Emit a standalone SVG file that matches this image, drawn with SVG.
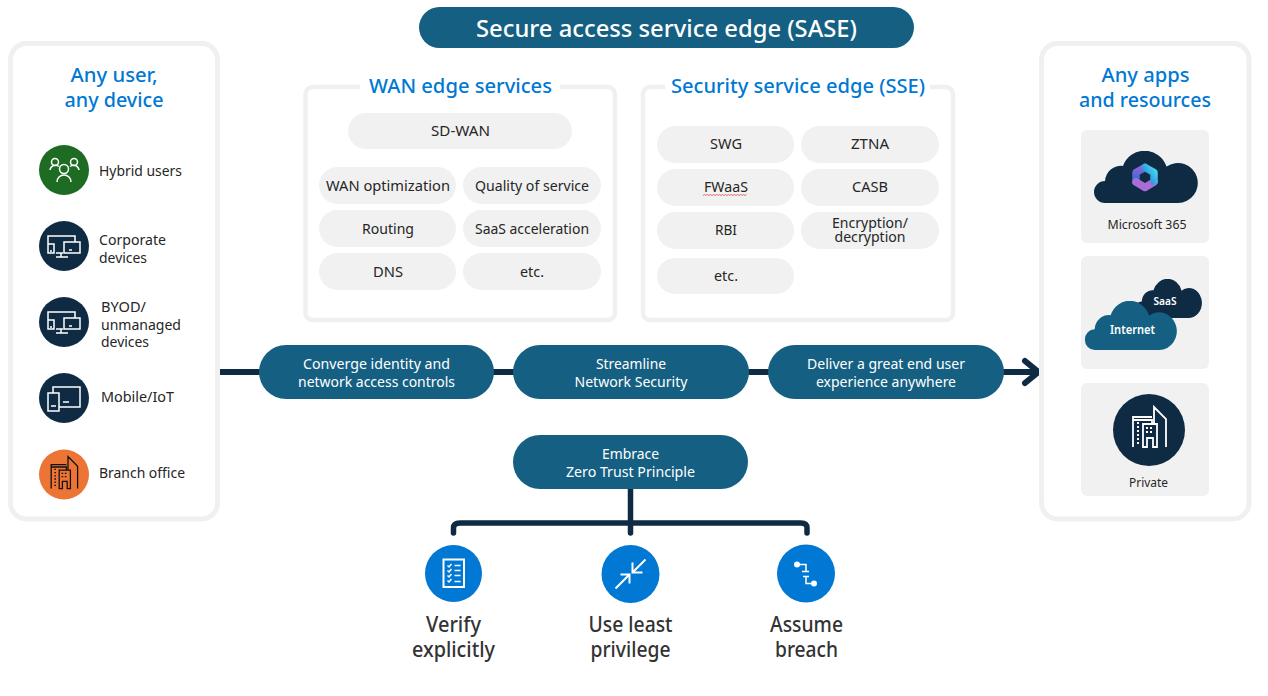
<svg xmlns="http://www.w3.org/2000/svg" width="1268" height="696" viewBox="0 0 1268 696">
<style>
text{font-family:"Noto Sans","Open Sans","Liberation Sans",sans-serif;text-anchor:middle;fill:#262626;font-size:14px}
.l{text-anchor:start}
.w{fill:#fff}
.h{fill:#0078d4;font-size:20px;font-weight:500}
.b{font-size:21px;fill:#333;font-weight:500}
.s{font-size:12.5px}
.panel{fill:#fff;stroke:#f0f0f0;stroke-width:5}
.box{fill:#fff;stroke:#f0f0f0;stroke-width:4.5}
.pill{fill:#f1f1f1}
.main{fill:#156082}
.card{fill:#f1f1f1}
.conn{fill:none;stroke:#0f2a43;stroke-width:5.5;stroke-linecap:round;stroke-linejoin:round}
.ic{fill:none;stroke:#fff;stroke-width:1.5}
.ic2{fill:none;stroke:#fff;stroke-width:2}
.navy{fill:#0f2a43}
.blue{fill:#0078d4}
</style>
<defs>
<symbol id="cloud" viewBox="0 0 105 52" preserveAspectRatio="none">
<path d="M12 52A11 11 0 0 1 12 30A16 16 0 0 1 30 15A23 23 0 0 1 73.500 15.500A20 20 0 1 1 85 52Z"/>
</symbol>
<g id="devices">
<path d="M-16 -1V-10H11V-4M0 -4H16V7H0ZM-16 -2H-10V7H-16ZM-8 7H-1M-3 7V11M-8 11H4M5 4H8M-14 5H-12"/>
</g>
<g id="building">
<path d="M-16 17V-13H3M-16 -10H3V-6M-6 17V-6H8V17H4V8H-2V17ZM5 -6V-23L17 -11V17M-12 -7H-10M-12 -3H-10M-12 1H-10M-12 5H-10M-12 9H-10M-12 13H-10M-3 -2H-1M1 -2H3M-3 2H-1M1 2H3"/>
</g>
<linearGradient id="m365a" x1="0" y1="0" x2="0" y2="1">
<stop offset="0" stop-color="#8f62d8"/>
<stop offset="1" stop-color="#2470d0"/>
</linearGradient>
<linearGradient id="m365b" x1="0" y1="1" x2="1" y2="0">
<stop offset="0" stop-color="#2a78d8"/>
<stop offset="1" stop-color="#45d8f0"/>
</linearGradient>
</defs>

<g id="connectors">
<path class="conn" style="stroke-width:6" d="M220 372H1038M1025 361L1038.500 372L1025 383"/>
<path class="conn" d="M630.500 489V533M453.500 533V528Q453.500 523 460 523H801Q807 523 807 528V533"/>
</g>

<g id="title"><rect class="main" x="419" y="7" width="495" height="41" rx="20.500"/><text class="w" x="666.500" y="37" style="font-size:24px;font-weight:500" textLength="381" lengthAdjust="spacingAndGlyphs">Secure access service edge (SASE)</text></g>

<g id="users-panel">
<rect class="panel" x="10.500" y="43.500" width="207" height="475.500" rx="16"/>
<text class="h" x="114" y="82" textLength="87" lengthAdjust="spacingAndGlyphs">Any user,</text>
<text class="h" x="114" y="107" textLength="99" lengthAdjust="spacingAndGlyphs">any device</text>
</g>
<g id="hybrid-users">
<circle cx="64" cy="170" r="25" fill="#1e6b24"/>
<g class="ic" transform="translate(64 170)"><circle cx="0" cy="-1" r="4.500"/><path d="M-7 12A7 7 0 0 1 7 12"/><circle cx="-9" cy="-8" r="3.500"/><path d="M-14 0A5.500 5.500 0 0 1 -5 -3.500"/><circle cx="10" cy="-8" r="3.500"/><path d="M15 0A5.500 5.500 0 0 0 6 -3.500"/></g>
<text class="l" x="99" y="176" textLength="83" lengthAdjust="spacingAndGlyphs">Hybrid users</text>
</g>
<g id="corporate-devices">
<circle class="navy" cx="64" cy="246" r="25"/>
<use href="#devices" class="ic" x="64" y="246"/>
<text class="l" x="99" y="245" textLength="67" lengthAdjust="spacingAndGlyphs">Corporate</text>
<text class="l" x="99" y="263" textLength="48" lengthAdjust="spacingAndGlyphs">devices</text>
</g>
<g id="byod-devices">
<circle class="navy" cx="64" cy="322" r="25"/>
<use href="#devices" class="ic" x="64" y="322"/>
<text class="l" x="101" y="312" textLength="45" lengthAdjust="spacingAndGlyphs">BYOD/</text>
<text class="l" x="101" y="330" textLength="80" lengthAdjust="spacingAndGlyphs">unmanaged</text>
<text class="l" x="101" y="347" textLength="48" lengthAdjust="spacingAndGlyphs">devices</text>
</g>
<g id="mobile-iot">
<circle class="navy" cx="64" cy="398" r="25"/>
<path class="ic" transform="translate(64 398)" d="M-11 -5V-11H16V9H-5M-16 -5H-5V13H-16ZM-1 4H5M-13 8H-8"/>
<text class="l" x="101" y="402" textLength="73" lengthAdjust="spacingAndGlyphs">Mobile/IoT</text>
</g>
<g id="branch-office">
<circle cx="64" cy="474.500" r="25" fill="#ec7434"/>
<use href="#building" transform="translate(64 475) scale(.8)" fill="none" stroke="#111" stroke-width="1.600"/>
<text class="l" x="99" y="478" textLength="86" lengthAdjust="spacingAndGlyphs">Branch office</text>
</g>

<g id="wan-edge">
<rect class="box" x="305.500" y="87" width="309.500" height="233" rx="7"/>
<rect x="360" y="78" width="200" height="14" fill="#fff"/>
<text class="h" x="460.500" y="93" textLength="183" lengthAdjust="spacingAndGlyphs">WAN edge services</text>
</g>
<g id="sd-wan"><rect class="pill" x="348" y="113" width="224" height="36" rx="18"/><text x="460.500" y="136" textLength="59" lengthAdjust="spacingAndGlyphs">SD-WAN</text></g>
<g id="wan-optimization"><rect class="pill" x="319" y="167" width="137" height="37" rx="18.500"/><text x="388" y="191" textLength="124" lengthAdjust="spacingAndGlyphs">WAN optimization</text></g>
<g id="quality-of-service"><rect class="pill" x="463" y="167" width="138" height="37" rx="18.500"/><text x="532" y="191" textLength="114" lengthAdjust="spacingAndGlyphs">Quality of service</text></g>
<g id="routing"><rect class="pill" x="319" y="210" width="137" height="37" rx="18.500"/><text x="388" y="234" textLength="52" lengthAdjust="spacingAndGlyphs">Routing</text></g>
<g id="saas-acceleration"><rect class="pill" x="463" y="210" width="138" height="37" rx="18.500"/><text x="532" y="234" textLength="114" lengthAdjust="spacingAndGlyphs">SaaS acceleration</text></g>
<g id="dns"><rect class="pill" x="319" y="253" width="137" height="37" rx="18.500"/><text x="388" y="277" textLength="30" lengthAdjust="spacingAndGlyphs">DNS</text></g>
<g id="wan-etc"><rect class="pill" x="463" y="253" width="138" height="37" rx="18.500"/><text x="532" y="277" textLength="24" lengthAdjust="spacingAndGlyphs">etc.</text></g>

<g id="sse">
<rect class="box" x="643" y="87" width="310" height="233" rx="7"/>
<rect x="665" y="78" width="265" height="14" fill="#fff"/>
<text class="h" x="798" y="93" textLength="254" lengthAdjust="spacingAndGlyphs">Security service edge (SSE)</text>
</g>
<g id="swg"><rect class="pill" x="657" y="126" width="137" height="37" rx="18.500"/><text x="726" y="149" textLength="32" lengthAdjust="spacingAndGlyphs">SWG</text></g>
<g id="ztna"><rect class="pill" x="801" y="126" width="138" height="37" rx="18.500"/><text x="870" y="149" textLength="38" lengthAdjust="spacingAndGlyphs">ZTNA</text></g>
<g id="fwaas"><rect class="pill" x="657" y="169" width="137" height="37" rx="18.500"/><text x="726" y="192" textLength="44" lengthAdjust="spacingAndGlyphs">FWaaS</text><path d="M703 195.500l1.500 -1 1.500 1 1.500 -1 1.500 1 1.500 -1 1.500 1 1.500 -1 1.500 1 1.500 -1 1.500 1 1.500 -1 1.500 1 1.500 -1 1.500 1 1.500 -1 1.500 1 1.500 -1 1.500 1 1.500 -1 1.500 1 1.500 -1 1.500 1 1.500 -1 1.500 1 1.500 -1 1.500 1 1.500 -1 1.500 1 1.500 -1" fill="none" stroke="#e0484f" stroke-width=".8"/></g>
<g id="casb"><rect class="pill" x="801" y="169" width="138" height="37" rx="18.500"/><text x="870" y="192" textLength="36" lengthAdjust="spacingAndGlyphs">CASB</text></g>
<g id="rbi"><rect class="pill" x="657" y="212" width="137" height="37" rx="18.500"/><text x="726" y="235" textLength="22" lengthAdjust="spacingAndGlyphs">RBI</text></g>
<g id="encryption"><rect class="pill" x="801" y="212" width="138" height="37" rx="18.500"/><text x="870" y="228" textLength="76" lengthAdjust="spacingAndGlyphs">Encryption/</text><text x="870" y="242" textLength="71" lengthAdjust="spacingAndGlyphs">decryption</text></g>
<g id="sse-etc"><rect class="pill" x="657" y="258" width="137" height="36" rx="18"/><text x="726" y="281" textLength="24" lengthAdjust="spacingAndGlyphs">etc.</text></g>

<g id="converge"><rect class="main" x="259" y="345" width="235" height="54" rx="27"/><text class="w" x="376.500" y="369" textLength="147" lengthAdjust="spacingAndGlyphs">Converge identity and</text><text class="w" x="376.500" y="387" textLength="157" lengthAdjust="spacingAndGlyphs">network access controls</text></g>
<g id="streamline"><rect class="main" x="513" y="345" width="236" height="54" rx="27"/><text class="w" x="631" y="369" textLength="70" lengthAdjust="spacingAndGlyphs">Streamline</text><text class="w" x="631" y="387" textLength="113" lengthAdjust="spacingAndGlyphs">Network Security</text></g>
<g id="deliver"><rect class="main" x="768" y="345" width="236" height="54" rx="27"/><text class="w" x="886" y="369" textLength="158" lengthAdjust="spacingAndGlyphs">Deliver a great end user</text><text class="w" x="886" y="387" textLength="140" lengthAdjust="spacingAndGlyphs">experience anywhere</text></g>
<g id="embrace"><rect class="main" x="513" y="435" width="235" height="54" rx="27"/><text class="w" x="630.500" y="459" textLength="57" lengthAdjust="spacingAndGlyphs">Embrace</text><text class="w" x="630.500" y="477" textLength="129" lengthAdjust="spacingAndGlyphs">Zero Trust Principle</text></g>

<g id="verify-explicitly">
<circle class="blue" cx="453.500" cy="573.500" r="28.500"/>
<g transform="translate(453.500 573.500)"><rect class="ic2" x="-10" y="-14" width="20.500" height="27.500"/><path class="ic" d="M-6 -8l1.500 1.500 2.500 -3M-6 -3l1.500 1.500 2.500 -3M-6 2l1.500 1.500 2.500 -3M-6 7l1.500 1.500 2.500 -3M1 -8H7M1 -3H7M1 2H7M1 8H7"/></g>
<text class="b" x="453.500" y="632" textLength="55" lengthAdjust="spacingAndGlyphs">Verify</text>
<text class="b" x="453.500" y="657" textLength="83" lengthAdjust="spacingAndGlyphs">explicitly</text>
</g>
<g id="least-privilege">
<circle class="blue" cx="630.500" cy="574" r="29"/>
<path class="ic2" transform="translate(630.500 573.500)" d="M15 -14L2 -1M2 -11V-1H12M-15 15L-1 1M-10 1H-1V10"/>
<text class="b" x="630.500" y="632" textLength="84" lengthAdjust="spacingAndGlyphs">Use least</text>
<text class="b" x="630.500" y="657" textLength="80" lengthAdjust="spacingAndGlyphs">privilege</text>
</g>
<g id="assume-breach">
<circle class="blue" cx="806" cy="573.500" r="29"/>
<g transform="translate(806 573.500)"><circle cx="-9" cy="-9" r="3" fill="#fff"/><circle cx="8" cy="10" r="3" fill="#fff"/><path class="ic" d="M-9 -9H0V-2M-4 -2H3M-3 3H3M0 3V10H8"/></g>
<text class="b" x="806.500" y="632" textLength="73" lengthAdjust="spacingAndGlyphs">Assume</text>
<text class="b" x="806.500" y="657" textLength="63" lengthAdjust="spacingAndGlyphs">breach</text>
</g>

<g id="apps-panel">
<rect class="panel" x="1041.500" y="43.500" width="207.500" height="475.500" rx="16"/>
<text class="h" x="1145.500" y="82" textLength="88" lengthAdjust="spacingAndGlyphs">Any apps</text>
<text class="h" x="1145" y="107" textLength="132" lengthAdjust="spacingAndGlyphs">and resources</text>
</g>
<g id="microsoft-365">
<rect class="card" x="1081" y="130" width="128" height="113" rx="6"/>
<use href="#cloud" class="navy" x="1093" y="151" width="105" height="52"/>
<g fill="none" stroke-width="7.500" stroke-linejoin="round" stroke-linecap="round">
<path d="M1145 167.500L1136 172.500V182" stroke="url(#m365a)"/>
<path d="M1136 182L1145 187.500L1154 182" stroke="#a86ed6"/>
<path d="M1145 167.500L1154 172.500V181" stroke="url(#m365b)"/>
</g>
<text class="s" x="1147" y="229" textLength="79" lengthAdjust="spacingAndGlyphs">Microsoft 365</text>
</g>
<g id="internet-saas">
<rect class="card" x="1081" y="256" width="128" height="113" rx="6"/>
<use href="#cloud" class="navy" x="1134" y="279" width="68" height="39"/>
<text class="w" x="1165" y="305" style="font-size:10.500px;font-weight:600" textLength="23" lengthAdjust="spacingAndGlyphs">SaaS</text>
<use href="#cloud" class="main" x="1084" y="301" width="93" height="49"/>
<text class="w" x="1132.500" y="334" style="font-size:13px;font-weight:600" textLength="45" lengthAdjust="spacingAndGlyphs">Internet</text>
</g>
<g id="private">
<rect class="card" x="1081" y="383" width="128" height="113" rx="6"/>
<circle class="navy" cx="1149" cy="430" r="36"/>
<use href="#building" transform="translate(1149 430)" fill="none" stroke="#fff" stroke-width="1.800"/>
<text class="s" x="1148.500" y="487" textLength="39" lengthAdjust="spacingAndGlyphs">Private</text>
</g>
</svg>
